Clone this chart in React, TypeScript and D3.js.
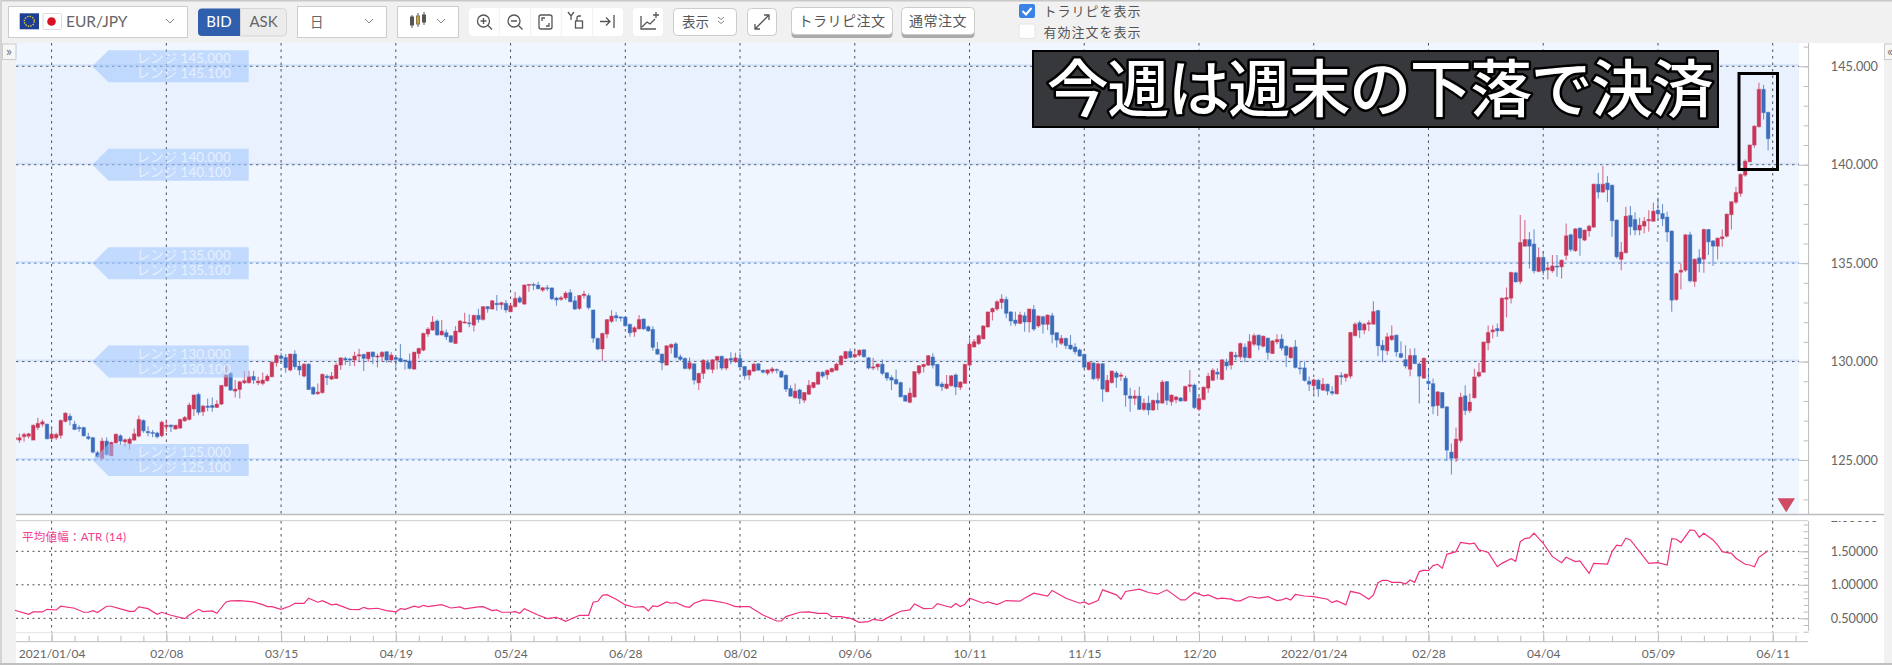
import React, { useEffect, useRef } from 'react'
import * as d3 from 'd3'

// open, high, low, close. first row is the bar 8 days before 2021/01/04
const barsJanMar: number[][] = [
  [126.04,126.43,125.93,126.13],[126.01,126.35,125.87,126.13],[126.18,126.38,125.93,126.30],[126.21,126.38,126.09,126.33],
  [126.01,126.82,126.01,126.76],[126.65,127.15,126.52,126.86],[126.82,127.06,126.69,126.94],[126.82,126.86,126.04,126.08],
  [126.09,126.69,126.04,126.31],[126.13,126.38,126.01,126.30],[126.25,127.06,126.09,127.01],[126.96,127.42,126.91,127.38],
  [127.23,127.36,126.77,127.03],[126.82,126.99,126.52,126.55],[126.65,126.77,126.43,126.59],[126.65,126.69,126.18,126.23],
  [126.18,126.38,126.01,126.09],[126.13,126.18,125.33,125.40],[125.37,125.47,125.08,125.16],[125.08,126.13,125.03,125.96],
  [125.96,126.15,125.20,125.28],[125.21,125.94,125.20,125.89],[125.87,126.35,125.84,126.31],[126.23,126.31,125.76,125.96],
  [125.92,126.09,125.67,126.03],[125.84,126.15,125.54,126.06],[126.01,126.60,125.98,126.33],[126.21,127.26,126.15,127.06],
  [127.01,127.06,126.38,126.48],[126.45,126.72,126.21,126.38],[126.40,126.52,126.15,126.35],[126.37,126.43,126.09,126.18],
  [126.23,126.99,126.15,126.92],[126.69,127.06,126.43,126.77],[126.77,126.82,126.42,126.69],[126.57,126.77,126.55,126.77],
  [126.62,127.11,126.59,127.06],[126.99,127.23,126.94,127.16],[127.06,127.91,127.01,127.79],[127.59,128.33,127.23,128.30],
  [128.33,128.42,127.28,127.42],[127.45,127.79,127.23,127.74],[127.74,128.13,127.48,127.67],[127.77,128.18,127.45,127.67],
  [127.67,128.04,127.64,127.84],[127.84,128.80,127.79,128.79],[128.75,129.92,128.72,129.31],[129.40,129.47,128.52,128.55],
  [128.50,129.06,128.18,128.60],[128.58,129.03,128.13,128.97],[128.92,129.52,128.86,129.03],[128.92,129.53,128.89,129.23],
  [129.25,129.53,128.86,129.06],[128.92,129.23,128.80,129.01],[128.89,129.45,128.80,129.06],[129.03,129.36,128.97,129.26],
  [129.23,130.02,129.19,129.97],[129.94,130.35,129.74,130.31],
]

const barsMarMay: number[][] = [
  [130.28,130.45,129.99,130.16],[130.21,130.38,129.43,129.69],[129.57,130.41,129.50,130.38],[130.38,130.58,129.60,129.74],
  [129.77,129.99,129.31,129.57],[129.26,129.91,129.19,129.87],[129.87,129.91,128.55,128.58],[128.69,128.75,128.30,128.35],
  [128.37,128.89,128.30,128.45],[128.42,129.40,128.38,129.35],[129.26,129.36,128.81,129.18],[129.11,129.47,129.06,129.26],
  [129.14,129.94,129.11,129.82],[129.82,130.21,129.57,130.19],[130.16,130.25,129.82,130.08],[130.13,130.19,129.77,130.11],
  [130.08,130.50,129.77,130.28],[130.28,130.65,129.99,130.35],[130.36,130.41,129.52,130.16],[130.14,130.48,129.99,130.48],
  [130.48,130.53,129.86,130.25],[130.25,130.41,129.70,130.28],[130.25,130.53,129.99,130.47],[130.50,130.53,129.94,130.08],
  [130.08,130.48,129.94,130.33],[130.21,130.25,129.65,130.11],[130.16,130.89,129.97,130.01],[130.08,130.08,129.58,130.01],
  [130.03,130.41,129.60,129.65],[129.62,130.50,129.57,130.48],[130.41,130.70,130.16,130.67],[130.58,131.47,130.53,131.43],
  [131.40,131.74,131.26,131.65],[131.60,132.31,131.57,132.01],[132.06,132.14,131.31,131.35],[131.35,132.11,131.33,131.55],
  [131.47,131.63,131.09,131.26],[131.31,131.35,130.96,130.99],[130.92,131.80,130.89,131.55],[131.50,132.11,131.47,132.06],
  [131.97,132.48,131.94,132.01],[131.97,132.41,131.74,131.94],[131.85,132.38,131.53,132.35],[132.35,132.68,131.97,132.14],
  [132.14,132.82,132.07,132.79],[132.79,132.82,132.48,132.68],[132.67,133.13,132.65,133.09],[132.96,133.38,132.58,132.89],
  [132.89,133.04,132.65,132.99],[132.96,133.13,132.48,132.62],
]

const barsMayJul: number[][] = [
  [132.53,132.99,132.50,132.84],[132.79,133.53,132.75,133.21],[133.24,133.35,132.96,133.02],[132.92,133.92,132.89,133.89],
  [133.87,133.94,133.55,133.92],[133.92,134.01,133.63,133.87],[133.89,134.06,133.67,133.70],[133.63,133.80,133.53,133.75],
  [133.75,133.89,133.60,133.72],[133.74,133.77,133.12,133.19],[133.23,133.29,132.84,133.13],[133.16,133.33,133.09,133.24],
  [133.23,133.57,133.13,133.48],[133.50,133.68,133.01,133.04],[133.09,133.33,132.62,132.67],[132.70,133.38,132.62,133.36],
  [133.35,133.60,133.21,133.43],[133.35,133.46,132.65,132.74],[132.62,132.65,130.96,131.19],[131.18,131.21,130.58,130.64],
  [130.64,131.47,130.03,131.43],[131.40,132.16,131.18,132.13],[132.04,132.61,131.97,132.31],[132.33,132.50,132.04,132.22],
  [132.26,132.31,132.04,132.21],[132.26,132.27,131.77,131.82],[131.89,131.94,131.26,131.46],[131.50,131.80,131.26,131.72],
  [131.66,132.36,131.63,132.14],[132.16,132.19,131.60,131.66],[131.77,131.83,131.51,131.56],[131.63,131.80,130.55,130.72],
  [130.63,130.99,130.34,130.38],[130.38,130.41,129.56,129.94],[129.82,130.83,129.80,130.80],[130.72,130.92,130.41,130.87],
  [130.90,131.00,130.16,130.21],[130.24,130.36,130.04,130.11],[130.16,130.21,129.60,129.65],[129.65,130.21,129.56,129.94],
  [129.89,129.90,128.84,129.06],[128.92,129.43,128.55,129.40],[129.40,130.12,129.12,130.07],[129.95,130.11,129.56,129.63],
  [129.60,130.12,129.40,130.09],[130.07,130.29,129.60,130.26],[130.27,130.29,129.56,129.67],[129.67,130.17,129.56,130.14],
  [130.16,130.48,129.87,130.07],[129.99,130.45,129.94,130.19],
]

const barsAugOct: number[][] = [
  [130.16,130.50,129.68,129.72],[129.75,129.78,129.09,129.28],[129.31,129.60,129.06,129.56],[129.51,129.94,129.48,129.87],
  [129.89,129.92,129.53,129.56],[129.56,129.60,129.39,129.46],[129.41,129.60,129.31,129.58],[129.51,129.73,129.39,129.63],
  [129.60,129.65,129.39,129.55],[129.51,129.56,129.17,129.21],[129.31,129.34,128.45,128.60],[128.63,128.80,128.21,128.24],
  [128.16,128.89,128.12,128.50],[128.56,128.62,127.84,128.12],[128.04,128.46,127.90,128.43],[128.34,129.06,128.31,128.80],
  [128.68,128.97,128.63,128.94],[128.85,129.50,128.82,129.46],[129.46,129.51,129.16,129.26],[129.33,129.60,129.09,129.56],
  [129.48,129.68,129.45,129.65],[129.56,129.94,129.53,129.87],[129.84,130.33,129.80,130.28],[130.16,130.55,130.12,130.51],
  [130.51,130.67,130.17,130.21],[130.24,130.61,130.21,130.36],[130.33,130.61,130.24,130.58],[130.60,130.63,130.19,130.24],
  [130.19,130.24,129.60,129.67],[129.67,130.19,129.56,129.73],[129.73,129.90,129.56,129.87],[129.87,130.11,129.31,129.40],
  [129.43,129.46,129.02,129.16],[129.19,129.31,128.55,129.06],[129.09,129.60,128.82,128.87],[128.94,128.97,128.18,128.21],
  [128.28,128.31,127.96,127.99],[127.93,128.67,127.88,128.40],[128.20,129.52,128.16,129.49],[129.42,129.82,129.32,129.79],
  [129.74,129.89,129.45,129.86],[129.82,130.33,129.77,130.30],[130.23,130.42,129.65,129.81],[129.86,129.89,128.74,128.77],
  [128.86,128.98,128.50,128.72],[128.64,129.32,128.60,128.86],[128.77,129.32,128.74,129.28],[129.32,129.40,128.30,128.71],
  [128.69,129.00,128.55,128.96],[128.89,129.89,128.88,129.86],
]

const barsOctDec: number[][] = [
  [129.82,131.18,129.69,130.89],[130.74,131.15,130.71,131.01],[130.91,131.38,130.84,131.32],[131.15,131.84,131.13,131.81],
  [131.76,132.55,131.72,132.52],[132.52,132.74,132.09,132.70],[132.67,133.13,132.57,133.04],[133.00,133.42,132.67,133.18],
  [133.16,133.30,132.20,132.45],[132.52,132.57,131.82,132.06],[132.11,132.53,131.81,131.94],[131.94,132.53,131.89,132.37],
  [132.33,132.50,131.52,132.01],[132.01,132.70,131.48,132.67],[132.65,132.87,131.55,131.65],[131.81,132.35,131.72,132.31],
  [132.28,132.33,131.43,131.89],[131.89,132.40,131.60,132.36],[132.33,132.48,130.93,131.37],[131.47,131.47,130.71,131.09],
  [130.93,131.35,130.84,131.18],[131.18,131.21,130.64,130.81],[130.84,131.35,130.59,130.64],[130.74,130.93,130.37,130.50],
  [130.59,130.67,130.25,130.28],[130.37,130.40,129.65,129.71],[129.59,130.00,129.55,129.96],[129.93,129.96,129.06,129.13],
  [129.15,129.93,129.01,129.89],[129.89,129.93,127.96,128.60],[128.47,129.32,128.44,129.05],[128.93,129.55,128.89,129.52],
  [129.42,129.52,128.67,129.20],[129.25,129.45,129.01,129.32],[129.15,129.28,127.71,128.30],[128.25,128.67,127.45,128.13],
  [128.13,128.55,127.79,128.25],[128.25,128.72,127.54,127.57],[127.57,128.13,127.49,127.89],[127.89,128.27,127.28,127.54],
  [127.54,128.06,127.49,128.03],[128.03,128.42,127.54,127.89],[127.89,129.06,127.86,128.96],[128.98,129.01,127.79,128.03],
  [127.96,128.33,127.76,128.30],[128.06,128.27,127.88,128.20],[128.15,128.20,127.96,128.00],[128.00,128.77,127.96,128.74],
  [128.74,129.57,128.44,128.82],[128.81,128.89,127.59,127.66],
]

const barsDecFeb: number[][] = [
  [127.58,128.24,127.48,128.12],[128.07,128.73,128.04,128.70],[128.65,129.43,128.41,129.26],[129.05,129.66,129.00,129.56],
  [129.46,129.66,129.09,129.36],[129.09,130.12,129.05,130.09],[129.97,130.14,129.56,129.78],[129.82,130.51,129.60,130.48],
  [130.32,130.49,130.07,130.24],[130.24,130.97,130.10,130.92],[130.73,130.92,129.97,130.21],[130.19,131.39,130.16,131.02],
  [130.88,131.43,130.78,131.32],[131.34,131.37,130.58,130.83],[130.78,131.32,130.71,131.29],[131.19,131.22,130.10,130.46],
  [130.41,131.09,130.38,131.05],[131.00,131.39,130.88,131.12],[131.14,131.39,130.55,130.68],[130.78,130.82,129.73,130.32],
  [130.19,130.75,130.16,130.71],[130.75,131.09,129.65,129.70],[129.68,129.99,129.36,129.63],[129.68,130.00,128.99,129.04],
  [129.00,129.24,128.51,128.85],[128.77,129.14,128.29,129.07],[129.05,129.12,128.21,128.61],[128.55,129.16,128.51,128.85],
  [128.85,128.88,128.29,128.50],[128.48,128.75,128.29,128.39],[128.36,129.31,128.33,129.29],[129.29,129.46,128.82,129.22],
  [129.19,129.39,128.99,129.36],[129.26,131.51,129.14,131.48],[131.31,132.00,131.29,131.90],[131.97,132.07,131.20,131.60],
  [131.60,131.97,131.39,131.90],[131.90,132.10,131.54,131.97],[131.90,133.07,131.87,132.54],[132.59,132.63,130.27,130.80],
  [130.83,131.09,129.97,130.58],[130.55,131.46,130.34,131.26],[131.12,131.83,131.05,131.31],[131.34,131.37,130.24,130.49],
  [130.41,131.02,130.17,130.21],[130.10,130.83,129.65,129.77],[129.61,130.65,129.26,130.31],[130.31,130.68,129.87,129.90],
  [129.88,129.97,127.87,129.26],[129.16,130.21,129.12,130.17],
]

const barsFebApr: number[][] = [
  [129.00,129.65,128.58,128.88],[128.88,129.14,127.33,127.73],[127.77,128.51,127.24,128.46],[128.43,128.46,127.61,127.65],
  [127.70,127.73,124.95,125.50],[125.40,125.84,124.26,125.09],[125.09,126.65,124.90,126.06],[125.99,128.41,125.87,128.19],
  [128.26,128.80,127.29,127.51],[127.51,128.38,127.39,127.94],[128.16,129.63,128.12,129.22],[129.26,129.94,129.19,129.46],
  [129.46,131.02,129.43,130.99],[130.95,131.83,130.58,131.48],[131.51,131.85,131.17,131.61],[131.68,131.93,131.26,131.56],
  [131.56,133.25,131.53,133.22],[133.17,133.76,132.24,133.25],[133.22,134.56,132.95,134.53],[134.51,134.56,134.02,134.05],
  [134.07,137.44,133.93,136.05],[135.86,137.19,135.83,136.20],[136.20,136.58,134.73,135.86],[135.97,136.71,134.47,134.61],
  [134.58,135.80,134.54,135.29],[135.29,135.58,134.39,134.61],[134.66,135.07,134.17,134.76],[134.61,135.41,134.51,134.86],
  [134.85,135.41,134.31,134.81],[134.81,135.19,134.22,135.15],
]

const barsMayJun: number[][] = [
  [135.39,137.02,135.15,136.39],[136.44,136.51,135.58,135.69],[135.63,136.78,135.58,136.74],[136.78,136.81,135.37,136.27],
  [136.17,136.71,136.12,136.68],[136.64,136.95,136.34,136.88],[136.83,139.05,136.78,139.01],[139.01,139.59,138.29,138.61],
  [138.61,139.93,138.57,139.01],[139.07,139.42,138.10,138.73],[138.96,139.00,136.34,137.15],[137.19,137.22,135.24,135.32],
  [135.19,136.08,134.64,135.56],[135.53,137.86,135.49,137.39],[137.42,137.90,136.42,136.85],[137.22,137.59,136.42,136.68],
  [136.68,137.30,136.42,136.93],[136.88,137.35,136.51,137.13],[137.15,137.69,136.59,137.22],[137.13,138.07,137.10,137.64],
  [137.69,138.34,137.19,137.51],[137.52,138.00,136.88,137.25],[137.34,137.61,136.08,136.58],[136.63,136.66,132.53,133.12],
  [133.15,134.51,133.09,134.47],[134.54,134.98,133.66,134.64],[134.64,136.47,134.56,136.44],[136.44,136.59,134.03,134.10],
  [134.07,135.24,133.80,135.20],[135.27,135.71,134.54,134.98],[135.20,136.76,134.51,136.71],[136.71,136.74,135.41,136.08],
  [136.13,136.17,134.85,135.86],[135.86,136.30,135.19,136.27],[136.24,136.71,135.83,136.34],[136.37,137.52,136.30,137.49],
  [137.46,138.15,136.71,138.12],[138.10,138.88,138.00,138.59],[138.54,139.56,138.37,139.51],[139.47,140.27,139.39,140.18],
  [140.15,141.03,140.12,141.00],[141.00,142.00,140.86,141.96],[141.93,144.16,141.89,143.83],[143.83,144.06,142.30,142.64],
  [142.66,142.69,140.74,141.32],
]

// ATR line, read at its corners
const atrBars = [-8,-5,-4,-2,-1,1,2,5,7,8,9,10,12,13,15,17,18,19,21,23,24,26,29,30,32,33,35,36,38,39,41,44,46,47,48,50,52,53,55,56,58,59,61,62,65,67,68,69,71,73,75,76,77,79,80,81,82,85,87,89,90,93,94,96,97,98,100,101,102,103,106,108,110,112,115,117,118,119,120,121,123,125,127,129,130,131,132,134,135,136,138,139,140,142,144,147,149,152,155,158,159,160,163,165,167,169,170,172,174,176,178,179,181,183,185,187,188,190,192,193,195,196,197,198,199,200,203,204,206,208,211,212,214,217,218,221,224,225,226,228,229,232,233,234,237,239,241,243,246,247,249,251,252,254,255,257,258,259,261,263,265,267,268,269,270,271,273,275,278,279,280,282,283,285,287,288,289,290,291,292,294,295,296,297,298,299,300,301,302,303,304,306,307,309,310,311,312,313,315,316,318,319,320,321,322,323,325,327,329,330,332,333,335,336,339,340,341,342,343,344,348,350,352,353,354,355,357,358,359,360,362,363,364,366,367,369,370,371,372,373,374]
const atrValues = [0.62,0.56,0.595,0.595,0.634,0.624,0.68,0.65,0.59,0.59,0.614,0.585,0.68,0.68,0.64,0.604,0.604,0.67,0.644,0.56,0.59,0.545,0.495,0.55,0.634,0.6,0.61,0.575,0.744,0.76,0.764,0.744,0.704,0.674,0.674,0.634,0.684,0.724,0.724,0.8,0.74,0.764,0.7,0.71,0.634,0.63,0.664,0.64,0.65,0.614,0.595,0.644,0.634,0.68,0.664,0.694,0.674,0.704,0.654,0.67,0.64,0.67,0.674,0.614,0.624,0.59,0.59,0.6,0.575,0.644,0.55,0.495,0.515,0.455,0.545,0.545,0.74,0.754,0.843,0.853,0.784,0.7,0.665,0.675,0.61,0.685,0.675,0.745,0.725,0.735,0.675,0.665,0.725,0.775,0.765,0.725,0.675,0.675,0.55,0.46,0.46,0.525,0.59,0.595,0.575,0.575,0.525,0.525,0.5,0.44,0.45,0.485,0.465,0.54,0.605,0.625,0.715,0.645,0.65,0.72,0.68,0.665,0.72,0.675,0.71,0.8,0.725,0.745,0.705,0.765,0.755,0.8,0.875,0.83,0.915,0.8,0.725,0.745,0.71,0.765,0.925,0.85,0.785,0.9,0.935,0.885,0.86,0.925,0.775,0.775,0.885,0.835,0.85,0.79,0.8,0.785,0.76,0.76,0.825,0.8,0.823,0.764,0.774,0.8,0.774,0.858,0.833,0.823,0.784,0.734,0.764,0.7,0.903,0.873,0.784,0.848,1.03,1.067,1.067,1.037,1.037,1.012,1.072,1.037,1.197,1.22,1.21,1.286,1.306,1.246,1.455,1.495,1.634,1.61,1.62,1.52,1.505,1.485,1.27,1.32,1.39,1.35,1.644,1.69,1.7,1.77,1.62,1.42,1.33,1.41,1.346,1.356,1.17,1.32,1.31,1.495,1.59,1.58,1.694,1.67,1.32,1.33,1.296,1.69,1.68,1.63,1.82,1.81,1.71,1.77,1.67,1.594,1.495,1.47,1.396,1.306,1.296,1.27,1.41,1.46,1.51]

const priceTicks = [145, 140, 135, 130, 125]
const atrTicks = [2, 1.5, 1, 0.5]
const dateLabels = ['2021/01/04', '02/08', '03/15', '04/19', '05/24', '06/28', '08/02', '09/06', '10/11', '11/15', '12/20', '2022/01/24', '02/28', '04/04', '05/09', '06/11']
const rangeLevels = ['145.000', '140.000', '135.000', '130.000', '125.000']
const rangeLevelsUpper = ['145.100', '140.100', '135.100', '130.100', '125.100']

const firstBar = -8
const lato = 'Lato, "Noto Sans CJK JP", sans-serif'
const cjk = '"Noto Sans CJK JP", sans-serif'
const red = '#c8375a'
const blue = '#3c6dbb'
const gridDark = '#3a3d42'
const toolGrey = '#555'

const App: React.FC = () => {
  const svgRef = useRef<SVGSVGElement | null>(null)

  useEffect(() => {
    if (!svgRef.current) return
    const svg = d3.select(svgRef.current)
    const layer = svg.select<SVGGElement>('g.chart')
    layer.selectAll('*').remove()

    const bars = [...barsJanMar, ...barsMarMay, ...barsMayJul, ...barsAugOct, ...barsOctDec, ...barsDecFeb, ...barsFebApr, ...barsMayJun]
    const x = d3.scaleLinear().domain([0, 375]).range([51.6, 1772.7])
    const y = d3.scaleLinear().domain([125, 145]).range([460, 66.3])
    const yAtr = d3.scaleLinear().domain([0.5, 1.5]).range([618.3, 551.3])

    const left = 16
    const right = 1799
    const gridX = dateLabels.map((_, i) => x(i * 25))

    // ----------- panels -----------
    layer.append('rect').attr('x', left).attr('y', 43).attr('width', right - left).attr('height', 471).attr('fill', '#eff6ff')
    layer.append('rect').attr('x', left).attr('y', y(145)).attr('width', right - left).attr('height', y(140) - y(145)).attr('fill', '#e9f1fe')
    layer.append('rect').attr('x', right).attr('y', 43).attr('width', 85).attr('height', 621).attr('fill', '#fff')
    layer.append('rect').attr('x', left).attr('y', 514).attr('width', right - left).attr('height', 150).attr('fill', '#fff')

    // ----------- grid -----------
    layer.append('g').selectAll('line').data(priceTicks).enter().append('line')
      .attr('x1', left).attr('x2', right).attr('y1', (d) => y(d) - 1).attr('y2', (d) => y(d) - 1)
      .attr('stroke', '#d3e3fc').attr('stroke-width', 2)
    layer.append('g').selectAll('line').data(priceTicks).enter().append('line')
      .attr('x1', left).attr('x2', right).attr('y1', (d) => y(d)).attr('y2', (d) => y(d))
      .attr('stroke', (d) => (d === 135 || d === 125 ? '#3f6aa8' : gridDark)).attr('stroke-dasharray', '2.5 3.5')
      .attr('stroke-width', 0.8)
    layer.append('g').selectAll('line').data([1.5, 1, 0.5]).enter().append('line')
      .attr('x1', left).attr('x2', right).attr('y1', (d) => yAtr(d)).attr('y2', (d) => yAtr(d))
      .attr('stroke', gridDark).attr('stroke-dasharray', '2 3.5').attr('stroke-width', 0.9)
    ;[[43, 514], [521, 633]].forEach(([y1, y2]) => {
      layer.append('g').selectAll('line').data(gridX).enter().append('line')
        .attr('x1', (d) => d).attr('x2', (d) => d).attr('y1', y1).attr('y2', y2)
        .attr('stroke', gridDark).attr('stroke-dasharray', '2.5 4').attr('stroke-width', 0.9)
    })

    // ----------- candles -----------
    const defs = layer.append('defs')
    defs.append('clipPath').attr('id', 'plotClip').append('rect').attr('x', left).attr('y', 43).attr('width', right - left).attr('height', 471)
    const candles = layer.append('g').attr('clip-path', 'url(#plotClip)')
      .selectAll('g').data(bars).enter().append('g')
      .attr('transform', (_, i) => `translate(${x(firstBar + i)},0)`)
    const colorOf = (d: number[]) => (d[3] >= d[0] ? red : blue)
    candles.append('line')
      .attr('y1', (d) => y(d[1])).attr('y2', (d) => y(d[2]))
      .attr('stroke', colorOf).attr('stroke-width', 1.1).attr('opacity', 0.7)
    candles.append('rect')
      .attr('x', -1.8).attr('width', 3.6)
      .attr('y', (d) => y(Math.max(d[0], d[3])))
      .attr('height', (d) => Math.max(1, Math.abs(y(d[0]) - y(d[3]))))
      .attr('fill', colorOf).attr('stroke', colorOf).attr('stroke-opacity', 0.35).attr('stroke-width', 1)

    // ----------- range order labels -----------
    const ranges = layer.append('g').selectAll('g').data(priceTicks).enter().append('g')
      .attr('transform', (d) => `translate(0,${y(d)})`)
    ranges.append('path').attr('d', 'M92.4 0L108.5 -16H248.7V16H108.5Z').attr('fill', '#9cc3fb').attr('opacity', 0.55)
    ranges.append('text').attr('x', 136.6).attr('y', -3).text((_, i) => `レンジ ${rangeLevels[i]}`)
      .attr('fill', '#fff').attr('opacity', 0.6).attr('font-size', 13.5).attr('font-family', lato)
    ranges.append('text').attr('x', 136.6).attr('y', 12).text((_, i) => `レンジ ${rangeLevelsUpper[i]}`)
      .attr('fill', '#fff').attr('opacity', 0.6).attr('font-size', 13.5).attr('font-family', lato)

    // ----------- atr line -----------
    const line = d3.line<number>().x((d) => x(d)).y((_, i) => yAtr(atrValues[i]))
    layer.append('path').attr('d', line(atrBars)).attr('fill', 'none').attr('stroke', '#f0307f').attr('stroke-width', 1.2)
    layer.append('text').attr('x', 22).attr('y', 540.5).text('平均値幅：ATR (14)')
      .attr('fill', '#f0408f').attr('font-size', 11.5).attr('font-family', lato).attr('textLength', 104)

    // ----------- axes -----------
    const styleAxis = (g: d3.Selection<SVGGElement, unknown, null, undefined>) => {
      g.select('.domain').attr('stroke', '#bdbdbd')
      g.selectAll('.tick line').attr('stroke', '#bdbdbd')
      g.selectAll('.tick text').attr('fill', '#666').attr('font-size', 12.7).attr('font-family', lato)
    }
    const axisX = 1808.6
    const putRight = (g: d3.Selection<SVGGElement, unknown, null, undefined>) => {
      g.selectAll('.tick text').attr('x', 69.4).attr('text-anchor', 'end')
    }

    const priceMinor = layer.append('g').attr('transform', `translate(${axisX},0)`)
    priceMinor.call(d3.axisLeft(y).tickValues(d3.range(123, 147)).tickSize(5).tickSizeOuter(0).tickFormat(() => ''))
    styleAxis(priceMinor as any)
    priceMinor.select('.domain').attr('d', 'M0 43V514')

    const priceMajor = layer.append('g').attr('transform', `translate(${axisX},0)`)
    priceMajor.call(d3.axisRight(y).tickValues(priceTicks).tickSize(-9.6).tickSizeOuter(0).tickFormat(d3.format('.3f') as any))
    styleAxis(priceMajor as any)
    putRight(priceMajor as any)
    priceMajor.select('.domain').remove()

    const atrMinor = layer.append('g').attr('transform', `translate(${axisX},0)`)
    atrMinor.call(d3.axisLeft(yAtr).tickValues(d3.range(0.3, 2, 0.1)).tickSize(5).tickSizeOuter(0).tickFormat(() => ''))
    styleAxis(atrMinor as any)
    atrMinor.select('.domain').attr('d', 'M0 521V631')

    const atrMajor = layer.append('g').attr('transform', `translate(${axisX},0)`)
    atrMajor.call(d3.axisRight(yAtr).tickValues(atrTicks).tickSize(-9.6).tickSizeOuter(0).tickFormat(d3.format('.5f') as any))
    styleAxis(atrMajor as any)
    putRight(atrMajor as any)
    atrMajor.select('.domain').remove()
    atrMajor.selectAll('.tick').filter((d) => d === 2).select('line').remove()

    layer.append('line').attr('x1', left).attr('x2', right).attr('y1', 632.7).attr('y2', 632.7).attr('stroke', '#e4e4e4')
    const timeMinor = layer.append('g').attr('transform', 'translate(0,641.7)')
    timeMinor.call(d3.axisTop(x).tickValues(d3.range(-5, 385, 5)).tickSize(6).tickSizeOuter(0).tickFormat(() => ''))
    styleAxis(timeMinor as any)
    timeMinor.select('.domain').attr('d', `M${left} 0H1808`)
    const timeMajor = layer.append('g').attr('transform', 'translate(0,632.7)')
    timeMajor.call(
      d3.axisBottom(x).tickValues(dateLabels.map((_, i) => i * 25)).tickSize(9).tickSizeOuter(0)
        .tickPadding(8).tickFormat((_, i) => dateLabels[i]),
    )
    styleAxis(timeMajor as any)
    timeMajor.selectAll('.tick text').attr('font-size', 12)
    timeMajor.select('.domain').remove()

    // cover for the top of the clipped 2.00000 label
    layer.append('rect').attr('x', 1812).attr('y', 510).attr('width', 72).attr('height', 11).attr('fill', '#fff')
    layer.append('line').attr('x1', left).attr('x2', 1884).attr('y1', 514.5).attr('y2', 514.5).attr('stroke', '#bdbdbd').attr('stroke-width', 1.5)
    layer.append('line').attr('x1', left).attr('x2', 1808).attr('y1', 520.7).attr('y2', 520.7).attr('stroke', '#cccccc')
    layer.append('line').attr('x1', 0).attr('x2', 1892).attr('y1', 664).attr('y2', 664).attr('stroke', '#c0c0c0').attr('stroke-width', 2)

    // ----------- marks on top -----------
    layer.append('path').attr('d', 'M1777.5 498.3H1795L1786.2 512.3Z').attr('fill', '#cf4a63')
    layer.append('rect').attr('x', 1033).attr('y', 51).attr('width', 685).attr('height', 76)
      .attr('fill', '#36383c').attr('stroke', '#000').attr('stroke-width', 2)
    layer.append('text').attr('x', 1379.5).attr('y', 112).attr('text-anchor', 'middle').text('今週は週末の下落で決済')
      .attr('fill', '#fff').attr('stroke', '#000').attr('stroke-width', 5).attr('paint-order', 'stroke')
      .attr('font-size', 62).attr('font-family', cjk).attr('font-weight', 500).attr('stroke-linejoin', 'round')
      .attr('letter-spacing', -1.5)
    layer.append('rect').attr('x', 1739).attr('y', 73.5).attr('width', 38.5).attr('height', 96)
      .attr('fill', 'none').attr('stroke', '#000').attr('stroke-width', 3)
  }, [])

  const chevron = (cx: number, cy: number) => (
    <path d={`M${cx - 4} ${cy - 2}L${cx} ${cy + 2}L${cx + 4} ${cy - 2}`} fill="none" stroke="#888" strokeWidth={1} />
  )

  return (
    <div style={{ position: 'fixed', left: 0, top: 0 }}>
      <svg ref={svgRef} width={1892} height={665} style={{ display: 'block' }}>
        <rect width={1892} height={665} fill="#f1f1f1" />
        <line x1={0} x2={1892} y1={0.5} y2={0.5} stroke="#c8c8c8" strokeWidth={2} />
        <line x1={1} x2={1} y1={0} y2={665} stroke="#d4d4d4" strokeWidth={2} />

        {/* toolbar */}
        <rect x={8.5} y={6.5} width={179} height={31} fill="#fff" stroke="#ccc" />
        <rect x={19.7} y={13.3} width={19.3} height={16} fill="#1c3f94" />
        <circle cx={29.3} cy={21.3} r={5} fill="none" stroke="#e8c93a" strokeWidth={1.4} strokeDasharray="1.4 1.2" />
        <rect x={43} y={13.5} width={18.5} height={16} rx={1} fill="#fff" stroke="#ddd" />
        <circle cx={51.5} cy={21.5} r={4.3} fill="#d8121e" />
        <text x={66} y={27} fontSize={15.5} fontFamily={lato} fill="#666">EUR/JPY</text>
        {chevron(170, 21)}

        <path d="M202 8.5H240V36H202Q198 36 198 32V12.5Q198 8.5 202 8.5Z" fill="#2f5fad" />
        <text x={219} y={27} textAnchor="middle" fontSize={15} fontFamily={lato} fill="#fff">BID</text>
        <path d="M240.5 8.5H282.5Q286.5 8.5 286.5 12.5V32Q286.5 36 282.5 36H240.5Z" fill="#ececec" stroke="#d6d6d6" />
        <text x={263.5} y={27} textAnchor="middle" fontSize={15} fontFamily={lato} fill="#666">ASK</text>

        <rect x={297.5} y={6.5} width={89} height={31} fill="#fff" stroke="#ccc" />
        <text x={310} y={27} fontSize={13.5} fontFamily={cjk} fill="#666">日</text>
        {chevron(369, 21)}
        <rect x={397.5} y={6.5} width={61} height={31} fill="#fff" stroke="#ccc" />
        <g stroke="#555">
          <line x1={412} x2={412} y1={15} y2={28} />
          <rect x={410.5} y={17} width={3} height={8} fill="#555" />
          <line x1={418} x2={418} y1={13} y2={27} />
          <rect x={416.5} y={16} width={3} height={8} fill="#c9a24a" stroke="#8a7a4a" />
          <line x1={424} x2={424} y1={12} y2={25} />
          <rect x={422.5} y={15} width={3} height={7} fill="#555" />
        </g>
        {chevron(441, 21)}

        <rect x={469} y={8} width={154} height={28} rx={4} fill="#fff" />
        <g stroke="#f1f1f1">
          {[499.4, 530.7, 561.3, 592.6].map((sx) => <line key={sx} x1={sx} x2={sx} y1={8} y2={36} />)}
        </g>
        <g fill="none" stroke={toolGrey} strokeWidth={1.3}>
          <circle cx={483.5} cy={21} r={6} />
          <path d="M488 25.5L492 29.5M480.5 21H486.5M483.5 18V24" />
          <circle cx={514} cy={21} r={6} />
          <path d="M518.5 25.5L522.5 29.5M511 21H517" />
          <rect x={539} y={15} width={13} height={14} rx={2} />
          <path d="M542 21V18H545M549 23V26H546" />
          <path d="M568 12L571 16L574 12M571 16V20" />
          <rect x={575.5} y={21} width={7} height={7} />
          <path d="M577 21V18Q577 16 579 16H581" />
          <path d="M600 21.5H610M606 17.5L610 21.5L606 25.5M614 15V28" />
        </g>

        <rect x={633} y={8} width={30} height={28} rx={4} fill="#fff" />
        <g fill="none" stroke={toolGrey} strokeWidth={1.3}>
          <path d="M641 16V29H656M642 27L647 22L650 24L655 19M653 15H659M656 12V18" />
        </g>

        <rect x={673.5} y={8.5} width={63} height={27} rx={4} fill="#fff" stroke="#ccc" />
        <text x={682} y={27} fontSize={13.5} fontFamily={cjk} fill="#555">表示</text>
        <path d="M718 17L721 19.5L724 17M718 21L721 23.5L724 21" fill="none" stroke="#888" />
        <rect x={747.5} y={8.5} width={29} height={27} rx={4} fill="#fff" stroke="#ccc" />
        <path d="M755 29L769 15M764 15H769V20M755 24V29H760" fill="none" stroke={toolGrey} strokeWidth={1.3} />

        <rect x={791.5} y={9} width={101} height={29} rx={4} fill="#aaa" />
        <rect x={791.5} y={7.5} width={101} height={27} rx={4} fill="#fff" stroke="#ccc" />
        <text x={842} y={26} textAnchor="middle" fontSize={14} fontFamily={cjk} fill="#555" letterSpacing={0.5}>トラリピ注文</text>
        <rect x={901.5} y={9} width={73} height={29} rx={4} fill="#aaa" />
        <rect x={901.5} y={7.5} width={73} height={27} rx={4} fill="#fff" stroke="#ccc" />
        <text x={938} y={26} textAnchor="middle" fontSize={14} fontFamily={cjk} fill="#555" letterSpacing={0.5}>通常注文</text>

        <rect x={1019} y={4} width={16} height={14} rx={2} fill="#3b82e6" />
        <path d="M1022.5 11L1026 14.5L1031.5 8" fill="none" stroke="#fff" strokeWidth={2} />
        <text x={1043.5} y={15.5} fontSize={13} fontFamily={cjk} fill="#555" letterSpacing={1}>トラリピを表示</text>
        <rect x={1019} y={24} width={16} height={14.5} rx={2} fill="#fff" stroke="#e4e4e4" />
        <text x={1043.5} y={37} fontSize={13} fontFamily={cjk} fill="#555" letterSpacing={1}>有効注文を表示</text>

        <g className="chart" />

        {/* panel toggles */}
        <rect x={2.5} y={44} width={13.5} height={15.5} fill="#f7f7f7" stroke="#ccc" />
        <text x={9} y={56} textAnchor="middle" fontSize={14} fontFamily={lato} fill="#777">»</text>
        <rect x={1884.5} y={44} width={10} height={15.5} fill="#f7f7f7" stroke="#ccc" />
        <text x={1890} y={56} textAnchor="middle" fontSize={14} fontFamily={lato} fill="#777">«</text>
      </svg>
    </div>
  )
}

export default App
